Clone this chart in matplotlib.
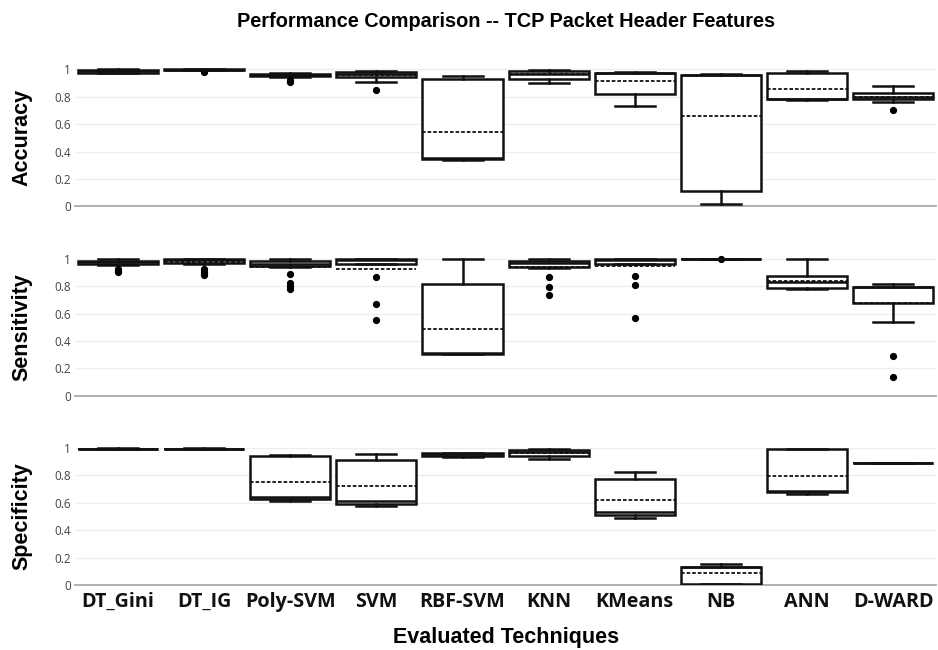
import matplotlib
matplotlib.use("Agg")
import matplotlib.pyplot as plt
from matplotlib.ticker import FixedLocator, FixedFormatter

# Techniques evaluated
techniques = ["DT_Gini", "DT_IG", "Poly-SVM", "SVM", "RBF-SVM",
              "KNN", "KMeans", "NB", "ANN", "D-WARD"]

# Accuracy box statistics
acc_low = [0.972, 0.995, 0.945, 0.910, 0.340, 0.900, 0.735, 0.020, 0.775, 0.765]
acc_q1 = [0.975, 0.996, 0.948, 0.946, 0.345, 0.932, 0.820, 0.110, 0.780, 0.785]
acc_med = [0.985, 0.998, 0.955, 0.965, 0.350, 0.965, 0.970, 0.955, 0.785, 0.800]
acc_q3 = [0.995, 0.999, 0.965, 0.980, 0.927, 0.985, 0.975, 0.958, 0.975, 0.825]
acc_high = [0.999, 1.000, 0.972, 0.985, 0.953, 0.995, 0.983, 0.965, 0.990, 0.880]
acc_mean = [0.987, 0.997, 0.955, 0.960, 0.540, 0.963, 0.915, 0.660, 0.856, 0.800]
acc_out = [[], [0.98], [0.925, 0.91], [0.85], [], [], [], [], [], [0.705]]

# Sensitivity box statistics
sen_low = [0.955, 0.965, 0.940, 0.960, 0.305, 0.935, 0.961, 1.000, 0.780, 0.540]
sen_q1 = [0.961, 0.971, 0.944, 0.960, 0.307, 0.939, 0.961, 1.000, 0.783, 0.680]
sen_med = [0.975, 0.990, 0.960, 0.990, 0.310, 0.970, 0.990, 1.000, 0.830, 0.790]
sen_q3 = [0.985, 0.998, 0.983, 0.998, 0.818, 0.985, 1.000, 1.000, 0.875, 0.797]
sen_high = [1.000, 1.000, 1.000, 1.000, 1.000, 1.000, 1.000, 1.000, 1.000, 0.815]
sen_mean = [0.976, 0.973, 0.942, 0.927, 0.487, 0.942, 0.944, 0.998, 0.835, 0.675]
sen_out = [[0.925, 0.91, 0.90], [0.925, 0.90, 0.88], [0.885, 0.82, 0.80, 0.78],
           [0.865, 0.67, 0.555], [], [0.865, 0.79, 0.735], [0.875, 0.805, 0.57],
           [0.995], [], [0.29, 0.135]]

# Specificity box statistics
spe_low = [0.993, 0.993, 0.615, 0.580, 0.935, 0.922, 0.487, 0.005, 0.665, 0.888]
spe_q1 = [0.994, 0.994, 0.628, 0.588, 0.940, 0.939, 0.509, 0.008, 0.680, 0.888]
spe_med = [0.995, 0.995, 0.642, 0.615, 0.955, 0.970, 0.533, 0.130, 0.685, 0.888]
spe_q3 = [0.996, 0.996, 0.945, 0.910, 0.962, 0.985, 0.774, 0.134, 0.990, 0.888]
spe_high = [0.997, 0.997, 0.952, 0.955, 0.966, 0.990, 0.823, 0.151, 0.995, 0.888]
spe_mean = [0.995, 0.995, 0.750, 0.722, 0.952, 0.963, 0.623, 0.085, 0.798, 0.888]
spe_out = [[] for _ in techniques]

y_ticks = [0, 0.2, 0.4, 0.6, 0.8, 1]
y_tick_labels = ["0", "0.2", "0.4", "0.6", "0.8", "1"]

panels = [
    ("Accuracy", acc_low, acc_q1, acc_med, acc_q3, acc_high, acc_mean, acc_out),
    ("Sensitivity", sen_low, sen_q1, sen_med, sen_q3, sen_high, sen_mean, sen_out),
    ("Specificity", spe_low, spe_q1, spe_med, spe_q3, spe_high, spe_mean, spe_out),
]

fig = plt.figure(figsize=(9.38, 6.5), dpi=100)
fig.patch.set_facecolor("white")

left, width = 0.08, 0.918
bottoms = [0.6826, 0.3912, 0.1000]
height = 0.2192
ink = "#111111"

for i, (name, lo, q1, med, q3, hi, mn, out) in enumerate(panels):
    ax = fig.add_axes([left, bottoms[i], width, height])
    stats = []
    for k in range(len(techniques)):
        stats.append(dict(whislo=lo[k], q1=q1[k], med=med[k], q3=q3[k],
                          whishi=hi[k], mean=mn[k], fliers=out[k]))
    ax.bxp(stats, positions=range(len(techniques)), widths=0.93,
           capwidths=0.465, patch_artist=True, showmeans=True, meanline=True,
           boxprops=dict(facecolor="white", edgecolor=ink, linewidth=1.8),
           whiskerprops=dict(color=ink, linewidth=1.8),
           capprops=dict(color=ink, linewidth=1.8),
           medianprops=dict(color=ink, linewidth=1.8),
           meanprops=dict(color=ink, linewidth=1.3, linestyle=(0, (2.0, 1.1))),
           flierprops=dict(marker="o", markerfacecolor="black",
                           markeredgecolor="black", markersize=4.2),
           zorder=3)
    ax.set_xlim(-0.5, len(techniques) - 0.5)
    ax.set_ylim(0, 1.04)
    ax.yaxis.set_major_locator(FixedLocator(y_ticks))
    ax.yaxis.set_major_formatter(FixedFormatter(y_tick_labels))
    ax.grid(axis="y", color="#eeeeee", linewidth=1, zorder=0)
    ax.set_axisbelow(True)
    for side in ("top", "right", "left"):
        ax.spines[side].set_visible(False)
    ax.spines["bottom"].set_color("#aaaaaa")
    ax.spines["bottom"].set_linewidth(1.3)
    ax.tick_params(axis="y", length=0, pad=3, labelsize=8.5, labelcolor="#444444")
    for lab in ax.get_yticklabels():
        lab.set_fontfamily("Open Sans")
    ax.set_ylabel(name, fontsize=15.5, fontweight="bold",
                  fontfamily="Liberation Sans")
    ax.yaxis.set_label_coords(-0.05, 0.48)
    ax.set_xticks(range(len(techniques)))
    if i == 2:
        ax.set_xticklabels(techniques, fontsize=14.2, fontweight="bold",
                           fontfamily="Open Sans", color="#111111")
        ax.tick_params(axis="x", length=0, pad=5)
    else:
        ax.set_xticklabels([])
        ax.tick_params(axis="x", length=0)

fig.text(0.539, 0.019, "Evaluated Techniques", ha="center", va="center",
         fontsize=15.5, fontweight="bold", fontfamily="Liberation Sans")

fig.text(0.54, 0.967, "Performance Comparison -- TCP Packet Header Features",
         ha="center", va="center", fontsize=14.3, fontweight="bold",
         fontfamily="Liberation Sans")

fig.savefig("out.png", dpi=100, facecolor="white")
